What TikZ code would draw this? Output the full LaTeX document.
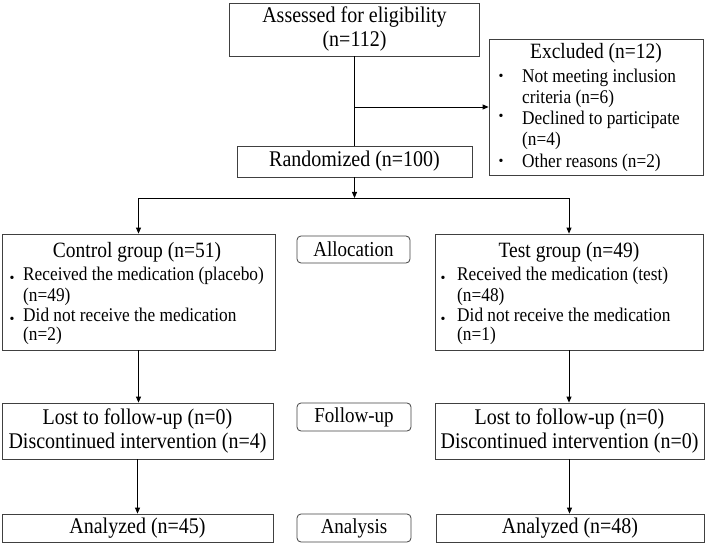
\documentclass[tikz,border=0pt]{standalone}
\usepackage{fontspec}
\setmainfont{Liberation Serif}
\usetikzlibrary{arrows.meta}
\newcommand{\vst}[1]{\scalebox{1}[1.12]{#1}}
\begin{document}
\begin{tikzpicture}[x=1pt,y=-1pt,
 box/.style={draw=black!75, line width=0.8pt, inner sep=0pt, font=\fontsize{20}{24}\selectfont, align=center},
 lab/.style={box, rounded corners=4pt, font=\fontsize{19}{22}\selectfont},
 big/.style={font=\fontsize{19.5}{22}\selectfont, inner sep=0pt, anchor=base},
 sm/.style={font=\fontsize{17.3}{21}\selectfont, inner sep=0pt, anchor=base west},
 dot/.style={font=\fontsize{14}{15}\selectfont, inner sep=0pt, anchor=base},
 arr/.style={line width=0.8pt, -{Triangle[length=6pt,width=5pt]}},
 ln/.style={line width=0.8pt}]
\useasboundingbox (0,0) rectangle (709,548);

% top
\node[box, minimum width=250pt, minimum height=53pt] (assess) at (354.5,29.5) {\vst{Assessed for eligibility}\\\vst{(n=112)}};
\node[box, minimum width=235pt, minimum height=31pt] (rand) at (354.5,161.5) {\vst{Randomized (n=100)}};

% excluded
\node[box, minimum width=214pt, minimum height=136pt] (excl) at (596,107) {};
\node[big] (exT) at (596,59) {\vst{Excluded (n=12)}};
\node[dot] (exb1) at (501,81) {•};
\node[dot] (exb2) at (501,121) {•};
\node[dot] (exb3) at (501,166) {•};
\node[sm] (ex1) at (522,83) {\vst{Not meeting inclusion}};
\node[sm] (ex2) at (522,104) {\vst{criteria (n=6)}};
\node[sm] (ex3) at (522,125) {\vst{Declined to participate}};
\node[sm] (ex4) at (522,146) {\vst{(n=4)}};
\node[sm] (ex5) at (522,168) {\vst{Other reasons (n=2)}};

% control group
\node[box, minimum width=273pt, minimum height=116pt] (ctrl) at (138.5,292) {};
\node[big] (ctT) at (137,257) {\vst{Control group (n=51)}};
\node[dot] (ctb1) at (12,282.5) {•};
\node[dot] (ctb2) at (12,323.5) {•};
\node[sm] (ct1) at (23,280) {\vst{Received the medication (placebo)}};
\node[sm] (ct2) at (23,301) {\vst{(n=49)}};
\node[sm] (ct3) at (23,321) {\vst{Did not receive the medication}};
\node[sm] (ct4) at (23,340) {\vst{(n=2)}};

% test group
\node[box, minimum width=268pt, minimum height=116pt] (test) at (569,292) {};
\node[big] (teT) at (569,257) {\vst{Test group (n=49)}};
\node[dot] (teb1) at (443,282.5) {•};
\node[dot] (teb2) at (443,323.5) {•};
\node[sm] (te1) at (457,280) {\vst{Received the medication (test)}};
\node[sm] (te2) at (457,301) {\vst{(n=48)}};
\node[sm] (te3) at (457,321) {\vst{Did not receive the medication}};
\node[sm] (te4) at (457,340) {\vst{(n=1)}};

% stage labels
\node[lab, minimum width=113pt, minimum height=27pt] (alloc) at (353.5,249.5) {\vst{Allocation}};
\node[lab, minimum width=114pt, minimum height=28pt] (fulab) at (354,417) {\vst{Follow-up}};
\node[lab, minimum width=114pt, minimum height=28pt] (anlab) at (354,528) {\vst{Analysis}};

% follow-up
\node[box, minimum width=271pt, minimum height=56pt, font=\fontsize{20}{23.5}\selectfont] (fuL) at (137.5,431) {\vst{Lost to follow-up (n=0)}\\\vst{Discontinued intervention (n=4)}};
\node[box, minimum width=269pt, minimum height=56pt, font=\fontsize{20}{23.5}\selectfont] (fuR) at (569.5,431) {\vst{Lost to follow-up (n=0)}\\\vst{Discontinued intervention (n=0)}};

% analysis
\node[box, minimum width=271pt, minimum height=28pt] (anL) at (137.5,528) {\vst{Analyzed (n=45)}};
\node[box, minimum width=268pt, minimum height=28pt] (anR) at (570,528) {\vst{Analyzed (n=48)}};

% connectors
\draw[ln] (assess.south) -- (rand.north);
\coordinate (exsplit) at (assess.south |- excl.west);
\draw[arr] (exsplit) -- (excl.west);
\coordinate (split) at (354.5,198);
\draw[arr] (rand.south) -- (split);
\draw[arr] (split) -| (ctrl.north);
\draw[arr] (split) -| (test.north);
\draw[arr] (ctrl.south) -- (ctrl.south |- fuL.north);
\draw[arr] (test.south) -- (test.south |- fuR.north);
\draw[arr] (fuL.south) -- (fuL.south |- anL.north);
\draw[arr] (fuR.south) -- (fuR.south |- anR.north);
\end{tikzpicture}
\end{document}
